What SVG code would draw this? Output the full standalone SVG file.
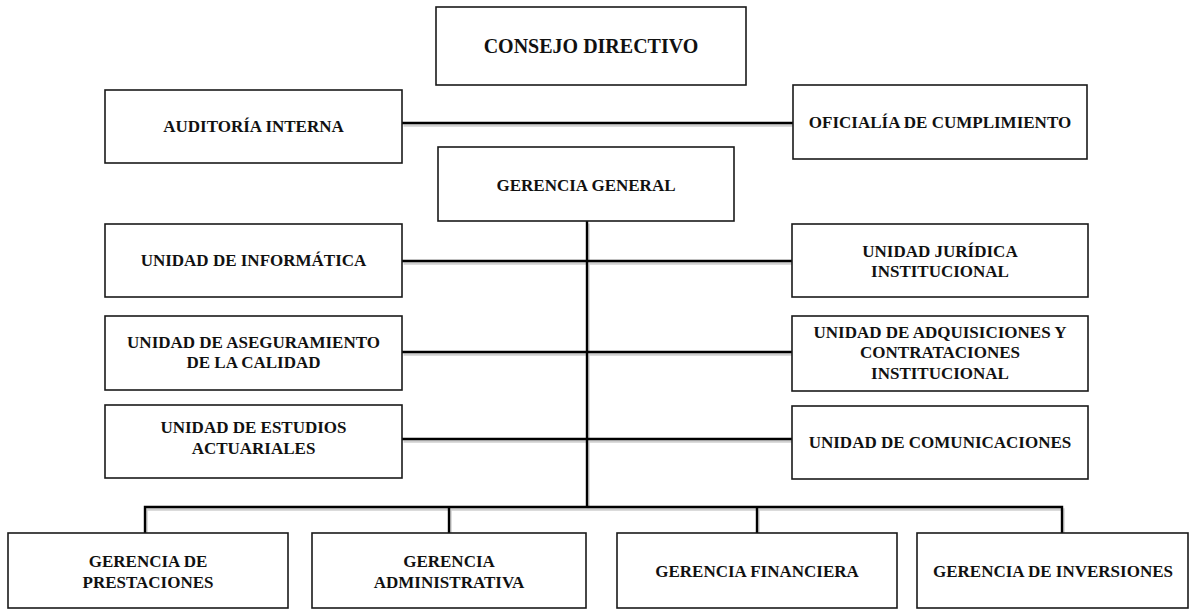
<svg xmlns="http://www.w3.org/2000/svg" width="1190" height="609" viewBox="0 0 1190 609">
<style>
.box{fill:#fff;stroke:#1a1a1a;stroke-width:1.6}
.t{font-family:"Liberation Serif","Times New Roman",serif;font-weight:bold;font-size:17px;fill:#111;text-anchor:middle}
.big{font-size:20px}
.ln{fill:none;stroke:#000;stroke-width:2.4}
.sh{fill:none;stroke:#cfcfcf;stroke-width:2.4}
</style>
<rect width="1190" height="609" fill="#fff"/>
<g id="connectors">
<g class="sh" transform="translate(1.5,2.5)">
<line x1="402" y1="123" x2="793" y2="123"/>
<line x1="587" y1="221" x2="587" y2="507"/>
<line x1="402" y1="261" x2="792" y2="261"/>
<line x1="402" y1="352" x2="792" y2="352"/>
<line x1="402" y1="439" x2="792" y2="439"/>
<polyline points="145,533 145,507 1062,507 1062,533"/>
<line x1="449" y1="507" x2="449" y2="533"/>
<line x1="757" y1="507" x2="757" y2="533"/>
</g>
<g class="ln">
<line x1="402" y1="123" x2="793" y2="123"/>
<line x1="587" y1="221" x2="587" y2="507"/>
<line x1="402" y1="261" x2="792" y2="261"/>
<line x1="402" y1="352" x2="792" y2="352"/>
<line x1="402" y1="439" x2="792" y2="439"/>
<polyline points="145,533 145,507 1062,507 1062,533"/>
<line x1="449" y1="507" x2="449" y2="533"/>
<line x1="757" y1="507" x2="757" y2="533"/>
</g>
</g>
<g id="consejo"><rect class="box" x="436" y="7" width="310" height="78"/><text class="t big" x="591" y="53">CONSEJO DIRECTIVO</text></g>
<g id="auditoria"><rect class="box" x="105" y="90" width="297" height="73"/><text class="t" x="253.5" y="132">AUDITORÍA  INTERNA</text></g>
<g id="oficialia"><rect class="box" x="793" y="85" width="294" height="74"/><text class="t" x="940" y="128">OFICIALÍA DE CUMPLIMIENTO</text></g>
<g id="gerencia-general"><rect class="box" x="438" y="147" width="296" height="74"/><text class="t" x="586" y="191">GERENCIA GENERAL</text></g>
<g id="informatica"><rect class="box" x="105" y="224" width="297" height="73"/><text class="t" x="253.5" y="266">UNIDAD DE INFORMÁTICA</text></g>
<g id="juridica"><rect class="box" x="792" y="224" width="296" height="73"/><text class="t" x="940" y="257">UNIDAD JURÍDICA</text><text class="t" x="940" y="277">INSTITUCIONAL</text></g>
<g id="aseguramiento"><rect class="box" x="105" y="316" width="297" height="74"/><text class="t" x="253.5" y="348">UNIDAD DE ASEGURAMIENTO</text><text class="t" x="253.5" y="368">DE LA CALIDAD</text></g>
<g id="adquisiciones"><rect class="box" x="792" y="316" width="296" height="75"/><text class="t" x="940" y="338">UNIDAD DE ADQUISICIONES Y</text><text class="t" x="940" y="358">CONTRATACIONES</text><text class="t" x="940" y="379">INSTITUCIONAL</text></g>
<g id="estudios"><rect class="box" x="105" y="405" width="297" height="73"/><text class="t" x="253.5" y="433">UNIDAD DE ESTUDIOS</text><text class="t" x="253.5" y="454">ACTUARIALES</text></g>
<g id="comunicaciones"><rect class="box" x="792" y="406" width="296" height="73"/><text class="t" x="940" y="448">UNIDAD DE COMUNICACIONES</text></g>
<g id="prestaciones"><rect class="box" x="8" y="533" width="280" height="75"/><text class="t" x="148" y="567">GERENCIA DE</text><text class="t" x="148" y="588">PRESTACIONES</text></g>
<g id="administrativa"><rect class="box" x="312" y="533" width="274" height="75"/><text class="t" x="449" y="567">GERENCIA</text><text class="t" x="449" y="588">ADMINISTRATIVA</text></g>
<g id="financiera"><rect class="box" x="617" y="533" width="280" height="75"/><text class="t" x="757" y="577">GERENCIA FINANCIERA</text></g>
<g id="inversiones"><rect class="box" x="917" y="533" width="271" height="75"/><text class="t" x="1053" y="577">GERENCIA DE INVERSIONES</text></g>
</svg>
